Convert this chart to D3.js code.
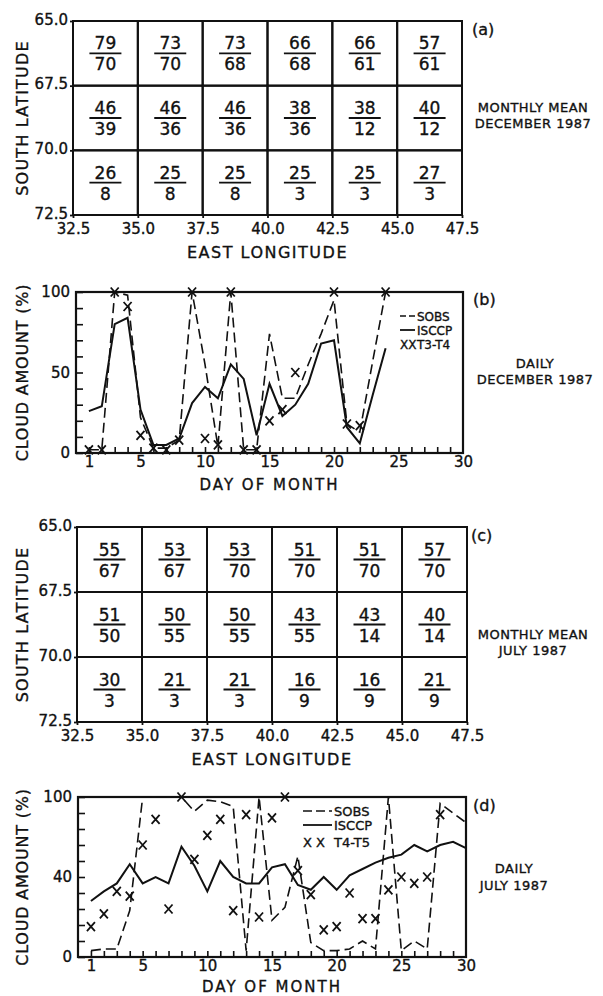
<!DOCTYPE html>
<html lang="en">
  <head>
    <meta charset="utf-8">
    <title>Cloud amount</title>
    <script src="https://d3js.org/d3.v7.min.js"></script>
    <style>
      body { margin: 0; background: #fff; }
      text { font-family: 'DejaVu Sans', sans-serif; fill: #111; stroke: #111; stroke-width: 0.35px; }
    </style>
  </head>
  <body>
    <script>
// grid panels: longitude / latitude edges
const lonTicks = [32.5, 35.0, 37.5, 40.0, 42.5, 45.0, 47.5]
const latTicks = [65.0, 67.5, 70.0, 72.5]

// (a) december 1987 monthly means, rows north -> south
const decTop = [
  [79, 73, 73, 66, 66, 57],
  [46, 46, 46, 38, 38, 40],
  [26, 25, 25, 25, 25, 27]
]
const decBottom = [
  [70, 70, 68, 68, 61, 61],
  [39, 36, 36, 36, 12, 12],
  [8, 8, 8, 3, 3, 3]
]

// (c) july 1987 monthly means
const julTop = [
  [55, 53, 53, 51, 51, 57],
  [51, 50, 50, 43, 43, 40],
  [30, 21, 21, 16, 16, 21]
]
const julBottom = [
  [67, 67, 70, 70, 70, 70],
  [50, 55, 55, 55, 14, 14],
  [3, 3, 3, 9, 9, 9]
]

// (b) daily december 1987
const decDays = [1, 2, 3, 4, 5, 6, 7, 8, 9, 10, 11, 12, 13, 14, 15, 16, 17, 18, 19, 20, 21, 22, 23, 24]
const decSobs = [2, 2, 100, 98, 22, 3, 3, 8, 100, 55, 4, 100, 2, 2, 74, 34, 34, 55, 74, 95, 18, 13, 57, 100]
const decIsccp = [26, 29, 80, 84, 27, 5, 5, 9, 31, 41, 34, 55, 46, 11, 43, 23, 30, 43, 68, 70, 16, 6, 36, 65]
const decT34 = [2, 2, 100, 91, 11, 3, 2, 8, 100, 9, 5, 100, 2, 2, 20, 27, 50, null, null, 100, 18, 17, null, 100]

// (d) daily july 1987
const julDays = [1, 2, 3, 4, 5, 6, 7, 8, 9, 10, 11, 12, 13, 14, 15, 16, 17, 18, 19, 20, 21, 22, 23, 24, 25, 26, 27, 28, 29, 30]
const julSobs = [4, 5, 5, 29, 100, 100, 100, 100, 91, 98, 97, 94, 4, 100, 23, 31, 63, 9, 4, 4, 5, 10, 5, 100, 4, 10, 5, 96, 90, 84]
const julIsccp = [35, 41, 46, 58, 46, 50, 46, 69, 57, 41, 60, 50, 46, 46, 56, 58, 45, 42, 50, 42, 51, 55, 59, 62, 64, 70, 66, 70, 72, 68]
const julT45 = [19, 27, 41, 38, 70, 86, 30, 100, 61, 76, 86, 29, 89, 25, 87, 100, 54, 39, 17, 19, 40, 24, 24, 42, 50, 46, 50, 89, null, null]

// daily axis labels (the july panel prints "40" at the middle tick)
const dayLabels = [1, 5, 10, 15, 20, 25, 30]
const decYValues = [0, 50, 100]
const decYLabels = ['0', '50', '100']
const julYValues = [0, 50, 100]
const julYLabels = ['0', '40', '100']

const svg = d3.select('body')
  .append('svg')
  .attr('width', 603)
  .attr('height', 996)

const fmt = d3.format('.1f')

function gridPanel(box, tops, bottoms, tag, side) {
  const x = d3.scaleLinear().domain([32.5, 47.5]).range([box.left, box.right])
  const y = d3.scaleLinear().domain([65, 72.5]).range([box.top, box.bottom])
  const g = svg.append('g')

  const cells = []
  tops.forEach((row, r) => row.forEach((v, c) => {
    cells.push({ lon: lonTicks[c], lat: latTicks[r], top: v, bottom: bottoms[r][c] })
  }))

  g.selectAll('rect.cell')
    .data(cells)
    .join('rect')
    .attr('x', d => x(d.lon))
    .attr('y', d => y(d.lat))
    .attr('width', d => x(d.lon + 2.5) - x(d.lon))
    .attr('height', d => y(d.lat + 2.5) - y(d.lat))
    .attr('fill', 'none')
    .attr('stroke', '#111')
    .attr('stroke-width', 2)

  const cx = d => (x(d.lon) + x(d.lon + 2.5)) / 2
  const cy = d => (y(d.lat) + y(d.lat + 2.5)) / 2

  g.selectAll('line.frac')
    .data(cells)
    .join('line')
    .attr('x1', d => cx(d) - 16)
    .attr('x2', d => cx(d) + 16)
    .attr('y1', cy)
    .attr('y2', cy)
    .attr('stroke', '#111')
    .attr('stroke-width', 1.8)

  g.selectAll('text.num')
    .data(cells)
    .join('text')
    .attr('x', cx)
    .attr('y', d => cy(d) - 4)
    .attr('text-anchor', 'middle')
    .style('font-size', '17px')
    .text(d => d.top)

  g.selectAll('text.den')
    .data(cells)
    .join('text')
    .attr('x', cx)
    .attr('y', d => cy(d) + 17)
    .attr('text-anchor', 'middle')
    .style('font-size', '17px')
    .text(d => d.bottom)

  const xAxis = g.append('g')
    .attr('transform', `translate(0,${box.bottom})`)
    .call(d3.axisBottom(x).tickValues(lonTicks).tickSize(3).tickPadding(5).tickFormat(fmt))
  const yAxis = g.append('g')
    .attr('transform', `translate(${box.left},0)`)
    .call(d3.axisLeft(y).tickValues(latTicks).tickSize(3).tickPadding(2).tickFormat(fmt))
  for (const a of [xAxis, yAxis]) {
    a.select('.domain').remove()
    a.selectAll('line').attr('stroke', '#111').attr('stroke-width', 1.8)
    a.selectAll('text').style('font-size', '15px').attr('fill', '#111')
  }
  yAxis.selectAll('text').attr('dy', '0.2em')

  g.append('text')
    .attr('x', (box.left + box.right) / 2)
    .attr('y', box.bottom + 43)
    .attr('text-anchor', 'middle')
    .style('font-size', '16px')
    .style('letter-spacing', '1.5px')
    .text('EAST  LONGITUDE')

  g.append('text')
    .attr('transform', `translate(28,${(box.top + box.bottom) / 2}) rotate(-90)`)
    .attr('text-anchor', 'middle')
    .style('font-size', '16px')
    .style('letter-spacing', '1.2px')
    .text('SOUTH  LATITUDE')

  sideLabels(tag, side)
}

function sideLabels(tag, side) {
  svg.append('text')
    .attr('x', tag.x)
    .attr('y', tag.y)
    .style('font-size', '16px')
    .text(tag.text)
  side.lines.forEach((t, i) => {
    svg.append('text')
      .attr('x', side.x)
      .attr('y', side.y[i])
      .attr('text-anchor', 'middle')
      .style('font-size', '13px')
      .style('letter-spacing', '0.5px')
      .text(t)
  })
}

function dailyPanel(box, days, sobs, isccp, marks, yValues, yLabels, legend, tag, side) {
  const x = d3.scaleLinear().domain([0, 30]).range([box.left, box.right])
  const y = d3.scaleLinear().domain([0, 100]).range([box.bottom, box.top])
  const g = svg.append('g')

  // minor inner ticks
  const tickX = g.append('g')
    .attr('transform', `translate(0,${box.bottom})`)
    .call(d3.axisBottom(x).tickValues(d3.range(1, 30)).tickSize(-6).tickFormat(''))
  const tickY = g.append('g')
    .attr('transform', `translate(${box.left},0)`)
    .call(d3.axisLeft(y).tickValues(d3.range(0, 101, 10)).tickSize(-7).tickFormat(''))
  const labX = g.append('g')
    .attr('transform', `translate(0,${box.bottom})`)
    .call(d3.axisBottom(x).tickValues(dayLabels).tickSize(0).tickPadding(3))
  const labY = g.append('g')
    .attr('transform', `translate(${box.left},0)`)
    .call(d3.axisLeft(y).tickValues(yValues).tickSize(0).tickPadding(6)
      .tickFormat((d, i) => yLabels[i]))
  for (const a of [tickX, tickY, labX, labY]) {
    a.select('.domain').remove()
    a.selectAll('line').attr('stroke', '#111').attr('stroke-width', 1.6)
    a.selectAll('text').style('font-size', '15px').attr('fill', '#111')
  }

  g.append('rect')
    .attr('x', box.left)
    .attr('y', box.top)
    .attr('width', box.right - box.left)
    .attr('height', box.bottom - box.top)
    .attr('fill', 'none')
    .attr('stroke', '#111')
    .attr('stroke-width', 2.2)

  const line = d3.line()
    .defined(d => d[1] != null)
    .x(d => x(d[0]))
    .y(d => y(d[1]))

  g.append('path')
    .datum(days.map((d, i) => [d, sobs[i]]))
    .attr('d', line)
    .attr('fill', 'none')
    .attr('stroke', '#111')
    .attr('stroke-width', 1.6)
    .attr('stroke-dasharray', '10,5')

  g.append('path')
    .datum(days.map((d, i) => [d, isccp[i]]))
    .attr('d', line)
    .attr('fill', 'none')
    .attr('stroke', '#111')
    .attr('stroke-width', 2)

  g.selectAll('path.mark')
    .data(days.map((d, i) => [d, marks[i]]).filter(d => d[1] != null))
    .join('path')
    .attr('d', d => {
      const px = x(d[0]), py = y(d[1])
      return `M${px - 4},${py - 4.5}L${px + 4},${py + 4.5}M${px + 4},${py - 4.5}L${px - 4},${py + 4.5}`
    })
    .attr('stroke', '#111')
    .attr('stroke-width', 1.8)

  // legend
  const lg = g.append('g').style('font-size', legend.size + 'px')
  lg.append('line')
    .attr('x1', legend.x).attr('x2', legend.x + legend.w)
    .attr('y1', legend.y[0]).attr('y2', legend.y[0])
    .attr('stroke', '#111').attr('stroke-width', 1.6).attr('stroke-dasharray', legend.dash)
  lg.append('line')
    .attr('x1', legend.x).attr('x2', legend.x + legend.w)
    .attr('y1', legend.y[1]).attr('y2', legend.y[1])
    .attr('stroke', '#111').attr('stroke-width', 1.8)
  lg.append('text').attr('x', legend.x + legend.w + 2).attr('y', legend.y[0] + 4.5).text('SOBS')
  lg.append('text').attr('x', legend.x + legend.w + 2).attr('y', legend.y[1] + 4.5).text('ISCCP')
  lg.append('text').attr('x', legend.x).attr('y', legend.y[2] + 4.5).text(legend.marks)
  lg.append('text').attr('x', legend.x + legend.w + 2).attr('y', legend.y[2] + 4.5).text(legend.name)

  g.append('text')
    .attr('x', (box.left + box.right) / 2)
    .attr('y', box.bottom + legend.titleGap)
    .attr('text-anchor', 'middle')
    .style('font-size', '15px')
    .style('letter-spacing', '2px')
    .text('DAY  OF  MONTH')

  g.append('text')
    .attr('transform', `translate(28,${(box.top + box.bottom) / 2}) rotate(-90)`)
    .attr('text-anchor', 'middle')
    .style('font-size', '16px')
    .style('letter-spacing', '0.8px')
    .text('CLOUD  AMOUNT (%)')

  sideLabels(tag, side)
}

gridPanel({ left: 73, right: 462, top: 21, bottom: 215 }, decTop, decBottom,
  { x: 472, y: 35, text: '(a)' },
  { x: 533, y: [112, 128], lines: ['MONTHLY MEAN', 'DECEMBER 1987'] })

dailyPanel({ left: 76, right: 463, top: 292, bottom: 453 }, decDays, decSobs, decIsccp, decT34,
  decYValues, decYLabels,
  { x: 400, w: 15, y: [316, 330, 344], size: 12, dash: '6,3', marks: 'XX', name: 'T3-T4', titleGap: 37 },
  { x: 473, y: 305, text: '(b)' },
  { x: 535, y: [368, 384], lines: ['DAILY', 'DECEMBER 1987'] })

gridPanel({ left: 77, right: 467, top: 527, bottom: 722 }, julTop, julBottom,
  { x: 471, y: 541, text: '(c)' },
  { x: 533, y: [639, 655], lines: ['MONTHLY MEAN', 'JULY 1987'] })

dailyPanel({ left: 78, right: 466, top: 797, bottom: 957 }, julDays, julSobs, julIsccp, julT45,
  julYValues, julYLabels,
  { x: 303, w: 29, y: [811, 825, 842], size: 13, dash: '9,4', marks: 'X X', name: 'T4-T5', titleGap: 35 },
  { x: 473, y: 811, text: '(d)' },
  { x: 514, y: [873, 890], lines: ['DAILY', 'JULY 1987'] })
    </script>
  </body>
</html>
